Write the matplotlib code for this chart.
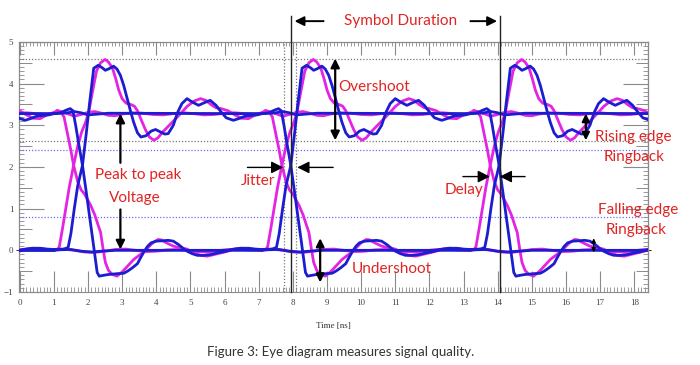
import numpy as np
import matplotlib
matplotlib.use("Agg")
import matplotlib.pyplot as plt
from matplotlib.ticker import MultipleLocator, NullFormatter

# ---------------- data (one symbol window, local time in ns) ----------------
PERIOD_OFFSETS = [-6.1, 0.0, 6.1, 12.2]   # start of each overlaid symbol window

# blue rising edge
br_t = [1.0, 1.3, 1.42, 1.5, 1.6, 1.7, 1.84, 1.95, 2.05, 2.17, 2.3, 2.42, 2.51, 2.62, 2.75, 2.85,
        2.95, 3.05, 3.15, 3.25, 3.34, 3.45, 3.55, 3.7, 3.85, 3.98, 4.1, 4.25, 4.35, 4.5, 4.62,
        4.75, 4.9, 5.05, 5.24, 5.4, 5.58, 5.75, 5.9, 6.05, 6.26, 6.45, 6.6, 6.8, 6.95, 7.1]
br_v = [0.02, 0.03, 0.07, 0.4, 1.0, 1.55, 2.04, 2.8, 3.55, 4.37, 4.44, 4.38, 4.32, 4.36, 4.42, 4.35,
        4.2, 3.95, 3.64, 3.33, 3.07, 2.82, 2.72, 2.75, 2.86, 2.9, 2.85, 2.79, 2.8, 3.0, 3.3,
        3.52, 3.64, 3.56, 3.48, 3.54, 3.6, 3.48, 3.32, 3.18, 3.12, 3.17, 3.22, 3.24, 3.25, 3.28]

# magenta rising edge
mr_t = [1.0, 1.1, 1.16, 1.25, 1.35, 1.45, 1.58, 1.7, 1.82, 1.92, 2.02, 2.12, 2.25, 2.37, 2.5,
        2.6, 2.72, 2.82, 2.9, 3.0, 3.12, 3.25, 3.36, 3.45, 3.55, 3.68, 3.8, 3.93, 4.05, 4.2,
        4.32, 4.5, 4.7, 4.9, 5.1, 5.3, 5.45, 5.6, 5.75, 5.9, 6.1, 6.3, 6.5, 6.7, 6.9, 7.1]
mr_v = [0.0, 0.02, 0.08, 0.5, 1.0, 1.5, 2.04, 2.5, 2.85, 3.05, 3.3, 3.75, 4.3, 4.5, 4.58,
        4.52, 4.37, 4.1, 3.85, 3.64, 3.53, 3.5, 3.46, 3.35, 3.15, 2.9, 2.72, 2.64, 2.7, 2.85,
        2.95, 3.1, 3.27, 3.45, 3.58, 3.64, 3.6, 3.5, 3.42, 3.4, 3.35, 3.25, 3.17, 3.16, 3.25, 3.3]

# blue falling edge
bf_t = [1.0, 1.2, 1.35, 1.48, 1.56, 1.64, 1.72, 1.84, 1.95, 2.05, 2.15, 2.27, 2.33, 2.45, 2.6,
        2.86, 3.05, 3.16, 3.3, 3.45, 3.54, 3.65, 3.75, 3.85, 4.0, 4.2, 4.35, 4.5, 4.65, 4.8,
        4.9, 5.05, 5.2, 5.4, 5.6, 5.8, 6.0, 6.2, 6.46, 6.7, 6.9, 7.1]
bf_v = [3.28, 3.3, 3.36, 3.4, 3.35, 3.0, 2.6, 2.04, 1.4, 0.8, 0.2, -0.53, -0.62, -0.6, -0.58,
        -0.56, -0.55, -0.5, -0.42, -0.32, -0.18, -0.02, 0.1, 0.18, 0.22, 0.23, 0.24, 0.22, 0.14, 0.04,
        -0.02, -0.08, -0.12, -0.12, -0.1, -0.06, -0.03, 0.02, 0.05, 0.05, 0.03, 0.02]

# magenta falling edge
mf_t = [1.0, 1.1, 1.2, 1.3, 1.4, 1.5, 1.58, 1.7, 1.8, 1.9, 2.0, 2.08, 2.2, 2.3, 2.37, 2.44,
        2.51, 2.6, 2.7, 2.85, 3.0, 3.16, 3.34, 3.5, 3.62, 3.74, 3.9, 4.05, 4.15, 4.3, 4.5, 4.7,
        4.9, 5.1, 5.3, 5.5, 5.7, 5.9, 6.1, 6.3, 6.5, 6.7, 6.9, 7.1]
mf_v = [3.3, 3.36, 3.33, 3.2, 2.8, 2.4, 2.04, 1.65, 1.45, 1.35, 1.2, 1.08, 0.85, 0.6, 0.43, 0.05,
        -0.29, -0.48, -0.57, -0.62, -0.52, -0.38, -0.22, -0.12, -0.05, 0.05, 0.18, 0.26, 0.25, 0.18, 0.1, 0.06,
        0.03, -0.06, -0.12, -0.14, -0.1, -0.06, -0.02, 0.03, 0.05, 0.04, 0.02, 0.0]

# steady high / low traces
bh_t = [1.0, 1.4, 1.6, 1.8, 2.0, 2.3, 2.6, 7.1]
bh_v = [3.28, 3.3, 3.33, 3.3, 3.25, 3.27, 3.29, 3.28]
mh_t = [1.0, 1.2, 1.4, 1.6, 1.8, 2.0, 2.2, 2.4, 2.6, 2.8, 3.0, 3.3, 3.6, 3.9, 4.2, 4.5, 4.8,
        5.1, 5.4, 5.7, 6.0, 6.3, 6.6, 6.9, 7.1]
mh_v = [3.3, 3.33, 3.28, 3.22, 3.26, 3.31, 3.33, 3.29, 3.24, 3.23, 3.27, 3.3, 3.29, 3.26, 3.25,
        3.28, 3.3, 3.28, 3.25, 3.26, 3.29, 3.3, 3.28, 3.27, 3.3]
bl_t = [1.0, 1.5, 1.8, 2.1, 2.4, 2.8, 7.1]
bl_v = [0.01, 0.02, -0.02, -0.04, -0.02, 0.0, 0.0]
ml_t = [1.0, 1.3, 1.6, 1.9, 2.2, 2.5, 2.8, 3.1, 3.4, 3.7, 4.0, 4.3, 4.6, 4.9, 5.2, 5.5, 5.8,
        6.1, 6.4, 6.7, 7.1]
ml_v = [0.0, 0.03, 0.0, -0.04, -0.05, -0.02, 0.02, 0.03, 0.0, -0.03, -0.02, 0.01, 0.02, 0.0,
        -0.03, -0.04, -0.01, 0.02, 0.03, 0.01, 0.0]

x_ticks = list(range(0, 19))
y_ticks = [-1, 0, 1, 2, 3, 4, 5]

# ---------------- figure ----------------
BLUE = "#1c1cd0"
MAG = "#e324e3"
RED = "#e02424"
GRAYT = "#8a8a8a"

fig = plt.figure(figsize=(7.0, 3.65), dpi=100)
ax = fig.add_axes([0.0271, 0.2, 0.8986, 0.685])
ax.set_xlim(-0.02, 18.4)
ax.set_ylim(-1, 5)

for off in PERIOD_OFFSETS:
    for tt, vv in [(mh_t, mh_v), (ml_t, ml_v), (mr_t, mr_v), (mf_t, mf_v)]:
        ax.plot(np.array(tt) + off, vv, color=MAG, lw=2.0, solid_capstyle="round", zorder=3)
for off in PERIOD_OFFSETS:
    for tt, vv in [(bh_t, bh_v), (bl_t, bl_v), (br_t, br_v), (bf_t, bf_v)]:
        ax.plot(np.array(tt) + off, vv, color=BLUE, lw=2.0, solid_capstyle="round", zorder=4)

# reference dotted lines
for y in [4.6, 2.62]:
    ax.axhline(y, color="#777777", lw=0.9, ls=(0, (1, 1.5)), zorder=2)
for y in [2.4, 0.8]:
    ax.axhline(y, color="#6b6bff", lw=0.9, ls=(0, (1, 1.5)), zorder=2)
for x in [7.75, 8.1]:
    ax.axvline(x, color="#777777", lw=0.9, ls=(0, (1, 1.5)), zorder=2)

# symbol duration markers
for x in [7.95, 14.06]:
    ax.plot([x, x], [-1, 5.63], color="#222222", lw=1.0, clip_on=False, zorder=5)

# ---------------- ticks / spines ----------------
for s in ax.spines.values():
    s.set_color(GRAYT)
    s.set_linewidth(0.8)

ax.set_xticks(x_ticks)
ax.set_yticks(y_ticks)
ax.xaxis.set_minor_locator(MultipleLocator(0.1))
ax.yaxis.set_minor_locator(MultipleLocator(0.1))
ax.tick_params(axis="x", which="major", direction="in", length=15, width=0.8, color=GRAYT,
               top=False, labelsize=6.5, labelcolor="#444444", pad=5)
ax.tick_params(axis="x", which="minor", direction="in", length=3.5, width=0.6, color=GRAYT, top=False)
ax.tick_params(axis="y", which="major", direction="in", length=18, width=0.8, color=GRAYT,
               right=False, labelsize=6.5, labelcolor="#444444", pad=4)
ax.tick_params(axis="y", which="minor", direction="in", length=3.5, width=0.6, color=GRAYT, right=False)
for lab in ax.get_xticklabels() + ax.get_yticklabels():
    lab.set_family("Liberation Serif")

secx = ax.secondary_xaxis("top")
secx.set_xticks(x_ticks)
secx.xaxis.set_minor_locator(MultipleLocator(0.1))
secx.tick_params(which="major", direction="in", length=9, width=0.8, color=GRAYT, labeltop=False)
secx.tick_params(which="minor", direction="in", length=3.0, width=0.6, color=GRAYT)
secx.spines["top"].set_color(GRAYT)

secr = ax.secondary_yaxis("right")
secr.set_yticks(y_ticks)
secr.yaxis.set_minor_locator(MultipleLocator(0.1))
secr.tick_params(which="major", direction="in", length=18, width=0.8, color=GRAYT, labelright=False)
secr.tick_params(which="minor", direction="in", length=3.5, width=0.6, color=GRAYT)
secr.spines["right"].set_color(GRAYT)

half = [y + 0.5 for y in y_ticks[:-1]]
for loc in ["left", "right"]:
    sm = ax.secondary_yaxis(loc)
    sm.set_yticks(half)
    sm.tick_params(which="major", direction="in", length=9, width=0.7, color=GRAYT,
                   labelleft=False, labelright=False)
    sm.yaxis.set_minor_locator(MultipleLocator(10))
    sm.spines[loc].set_color(GRAYT)

ax.set_xlabel("Time [ns]", family="Liberation Serif", fontsize=6.5, color="#333333", labelpad=11)

# ---------------- annotations ----------------
def arrow(tail, head, style="-|>", lw=1.4, ms=14):
    ax.annotate("", xy=head, xytext=tail,
                arrowprops=dict(arrowstyle=style, color="black", lw=lw, mutation_scale=ms,
                                shrinkA=0, shrinkB=0),
                annotation_clip=False, zorder=6)

def label(x, y, s):
    ax.text(x, y, s, color=RED, fontsize=11, family="Lato", ha="center", va="center", zorder=7)

label(11.15, 5.5, "Symbol Duration")
arrow((8.9, 5.5), (8.05, 5.5))
arrow((13.2, 5.5), (13.98, 5.5))

label(10.38, 3.93, "Overshoot")
arrow((9.24, 2.64), (9.24, 4.6), style="<|-|>", lw=1.6, ms=13)

label(3.47, 1.8, "Peak to peak")
label(3.36, 1.25, "Voltage")
arrow((2.95, 2.1), (2.95, 3.28), lw=1.6, ms=13)
arrow((2.95, 0.98), (2.95, 0.02), lw=1.6, ms=13)

label(6.97, 1.66, "Jitter")
arrow((6.67, 1.99), (7.72, 1.99), lw=1.0, ms=18)
arrow((9.18, 1.99), (8.13, 1.99), lw=1.0, ms=18)

label(13.0, 1.44, "Delay")
arrow((12.98, 1.77), (13.77, 1.77), lw=1.0, ms=18)
arrow((14.8, 1.77), (14.06, 1.77), lw=1.0, ms=18)

label(10.9, -0.45, "Undershoot")
arrow((8.8, 0.29), (8.8, -0.77), style="<|-|>", lw=1.6, ms=12)

label(17.98, 2.73, "Rising edge")
label(17.98, 2.23, "Ringback")
arrow((16.58, 3.28), (16.58, 2.64), style="<|-|>", lw=1.6, ms=11)

label(18.11, 0.96, "Falling edge")
label(18.04, 0.48, "Ringback")
arrow((16.81, 0.29), (16.81, -0.05), style="<|-|>", lw=0.9, ms=6)

fig.text(0.487, 0.036, "Figure 3: Eye diagram measures signal quality.", family="Lato",
         fontsize=9.5, color="#333333", ha="center", va="center")

fig.savefig("out.png", dpi=100)
